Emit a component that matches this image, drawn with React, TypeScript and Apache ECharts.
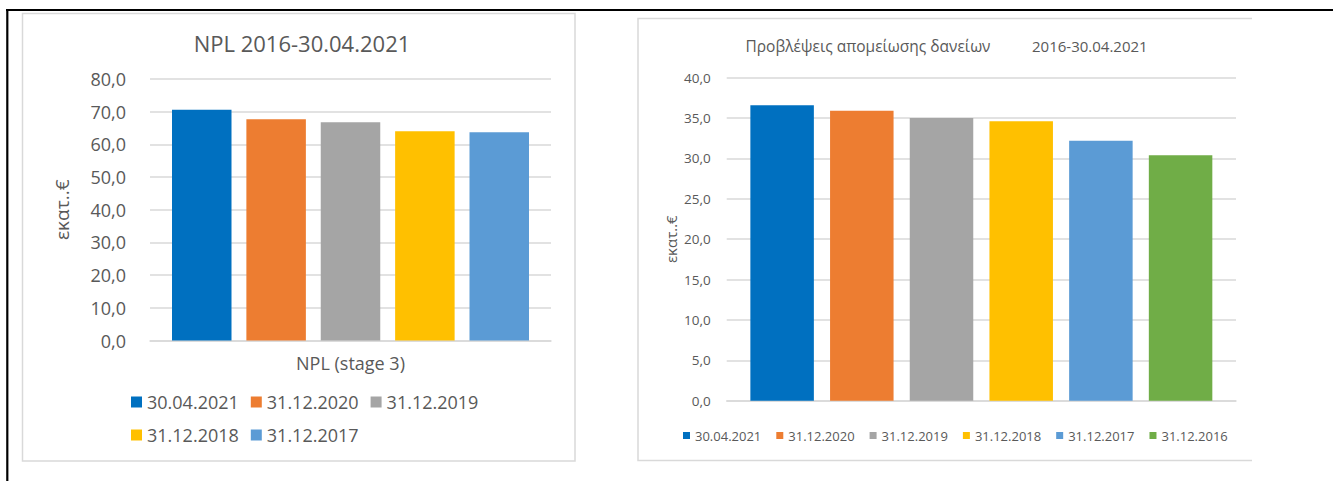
import React, { useEffect, useRef } from 'react';
import * as echarts from 'echarts';

// ---- data ----
const nplCategories = ['NPL (stage 3)'];
const nplDates = ['30.04.2021', '31.12.2020', '31.12.2019', '31.12.2018', '31.12.2017'];
const nplValues = [70.6, 67.7, 66.8, 64.0, 63.7];

const provCategories = [''];
const provDates = ['30.04.2021', '31.12.2020', '31.12.2019', '31.12.2018', '31.12.2017', '31.12.2016'];
const provValues = [36.6, 35.9, 35.0, 34.6, 32.2, 30.4];

const palette = ['#0070C0', '#ED7D31', '#A5A5A5', '#FFC000', '#5B9BD5', '#70AD47'];

const nplTitle = 'NPL 2016-30.04.2021';
const provTitleA = 'Προβλέψεις απομείωσης δανείων';
const provTitleB = '2016-30.04.2021';
const yName = 'εκατ..€';

const FONT = "'Open Sans', sans-serif";
const TXT = '#595959';
const GRID = '#D9D9D9';

const fmt = (v: number) => v.toFixed(1).replace('.', ',');

export default function App() {
  const ref = useRef<HTMLDivElement>(null);

  useEffect(() => {
    if (!ref.current) return;
    const chart = echarts.init(ref.current, undefined, { renderer: 'svg' });

    const nplSeries = nplDates.map((d, i) => ({
      type: 'bar',
      name: d,
      xAxisIndex: 0,
      yAxisIndex: 0,
      data: [nplValues[i]],
      barWidth: 59.5,
      barGap: '25%',
      itemStyle: { color: palette[i] },
    }));
    const provSeries = provDates.map((d, i) => ({
      type: 'bar',
      name: d,
      xAxisIndex: 1,
      yAxisIndex: 1,
      data: [provValues[i]],
      barWidth: 63.5,
      barGap: '25.5%',
      itemStyle: { color: palette[i] },
    }));

    const yAxisBase = (fontSize: number, margin: number, nameSize: number, nameGap: number) => ({
      type: 'value',
      axisLine: { show: false },
      axisTick: { show: false },
      splitLine: { lineStyle: { color: GRID, width: 1.5 } },
      axisLabel: { color: TXT, fontSize, fontFamily: FONT, margin, formatter: fmt },
      name: yName,
      nameLocation: 'middle',
      nameRotate: 90,
      nameGap,
      nameTextStyle: {
        color: TXT,
        fontSize: nameSize,
        fontFamily: FONT,
        align: 'center',
        verticalAlign: 'middle',
      },
    });

    chart.setOption({
      animation: false,
      backgroundColor: '#ffffff',
      textStyle: { fontFamily: FONT },
      title: [
        {
          text: nplTitle,
          left: 302,
          top: 43,
          textAlign: 'center',
          textVerticalAlign: 'middle',
          padding: 0,
          textStyle: { color: TXT, fontSize: 22, fontWeight: 'normal', fontFamily: FONT },
        },
        {
          text: provTitleA,
          left: 745.5,
          top: 46,
          textAlign: 'left',
          textVerticalAlign: 'middle',
          padding: 0,
          textStyle: { color: TXT, fontSize: 15.5, fontWeight: 'normal', fontFamily: FONT },
        },
        {
          text: provTitleB,
          left: 1032,
          top: 46,
          textAlign: 'left',
          textVerticalAlign: 'middle',
          padding: 0,
          textStyle: { color: TXT, fontSize: 15, fontWeight: 'normal', fontFamily: FONT },
        },
      ],
      legend: [
        {
          data: nplDates.slice(0, 3),
          left: 131,
          top: 393,
          padding: 0,
          itemWidth: 11,
          itemHeight: 11,
          itemGap: 12,
          icon: 'rect',
          textStyle: { color: TXT, fontSize: 18, fontFamily: FONT },
        },
        {
          data: nplDates.slice(3),
          left: 131,
          top: 426,
          padding: 0,
          itemWidth: 11,
          itemHeight: 11,
          itemGap: 12,
          icon: 'rect',
          textStyle: { color: TXT, fontSize: 18, fontFamily: FONT },
        },
        {
          data: provDates,
          left: 683,
          top: 429,
          padding: 0,
          itemWidth: 7,
          itemHeight: 7,
          itemGap: 15,
          icon: 'rect',
          textStyle: { color: TXT, fontSize: 13, fontFamily: FONT },
        },
      ],
      grid: [
        { left: 150, right: 1333 - 551, top: 79, bottom: 481 - 340.5, containLabel: false },
        { left: 726.7, right: 1333 - 1236, top: 77.7, bottom: 481 - 400.7, containLabel: false },
      ],
      xAxis: [
        {
          type: 'category',
          gridIndex: 0,
          data: nplCategories,
          axisTick: { show: false },
          axisLine: { lineStyle: { color: GRID, width: 1.5 } },
          axisLabel: { color: TXT, fontSize: 18, fontFamily: FONT, margin: 13 },
        },
        {
          type: 'category',
          gridIndex: 1,
          data: provCategories,
          axisTick: { show: false },
          axisLine: { lineStyle: { color: GRID, width: 1.5 } },
          axisLabel: { show: false },
        },
      ],
      yAxis: [
        { ...yAxisBase(18, 24, 19, 88), gridIndex: 0, min: 0, max: 80, interval: 10 },
        { ...yAxisBase(13.5, 16, 15, 56), gridIndex: 1, min: 0, max: 40, interval: 5 },
      ],
      series: [...nplSeries, ...provSeries],
      graphic: [
        {
          type: 'rect',
          silent: true,
          z: -10,
          shape: { x: 22.5, y: 13.5, width: 552.5, height: 447.5 },
          style: { fill: 'none', stroke: GRID, lineWidth: 1.5 },
        },
        {
          type: 'polyline',
          silent: true,
          z: -10,
          shape: { points: [[1252, 18.5], [638, 18.5], [638, 460.5], [1252, 460.5]] },
          style: { fill: 'none', stroke: GRID, lineWidth: 1.5 },
        },
        {
          type: 'line',
          silent: true,
          shape: { x1: 6, y1: 10, x2: 1333, y2: 10 },
          style: { stroke: '#000000', lineWidth: 2.2 },
        },
        {
          type: 'line',
          silent: true,
          shape: { x1: 7.3, y1: 9, x2: 7.3, y2: 481 },
          style: { stroke: '#000000', lineWidth: 2.2 },
        },
      ],
    });

    return () => chart.dispose();
  }, []);

  return (
    <div
      ref={ref}
      style={{ position: 'absolute', left: 0, top: 0, width: 1333, height: 481 }}
    />
  );
}
